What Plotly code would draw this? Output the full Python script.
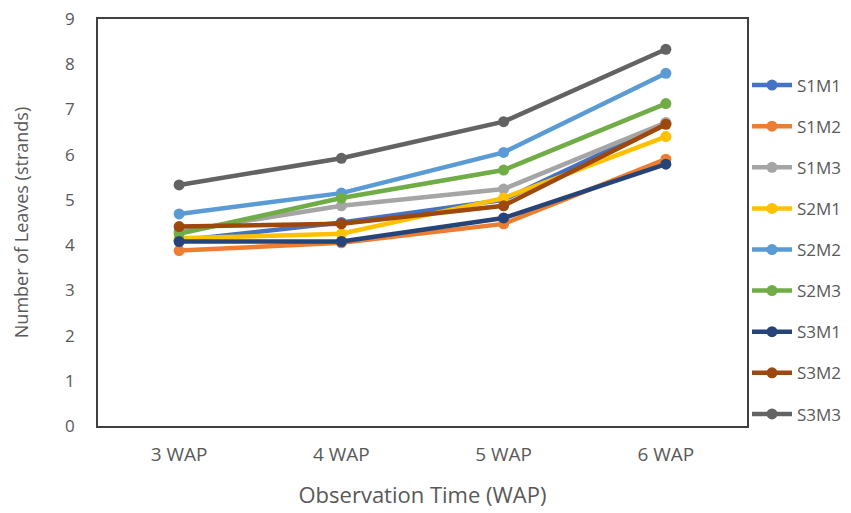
import plotly.graph_objects as go

categories = ["3 WAP", "4 WAP", "5 WAP", "6 WAP"]
series_names = ["S1M1", "S1M2", "S1M3", "S2M1", "S2M2", "S2M3", "S3M1", "S3M2", "S3M3"]
S1M1 = [4.10, 4.50, 5.00, 6.70]
S1M2 = [3.88, 4.05, 4.47, 5.90]
S1M3 = [4.30, 4.87, 5.24, 6.71]
S2M1 = [4.15, 4.25, 5.04, 6.40]
S2M2 = [4.69, 5.15, 6.05, 7.80]
S2M3 = [4.25, 5.04, 5.66, 7.13]
S3M1 = [4.08, 4.08, 4.60, 5.79]
S3M2 = [4.41, 4.47, 4.87, 6.67]
S3M3 = [5.33, 5.92, 6.73, 8.33]
series_values = [S1M1, S1M2, S1M3, S2M1, S2M2, S2M3, S3M1, S3M2, S3M3]
colors = ["#4472C4", "#ED7D31", "#A5A5A5", "#FFC000", "#5B9BD5",
          "#70AD47", "#264478", "#9E480E", "#636363"]
y_ticks = list(range(0, 10))

fig = go.Figure()
for name, vals, c in zip(series_names, series_values, colors):
    fig.add_trace(go.Scatter(
        x=categories, y=vals, name=name, mode="lines+markers",
        line=dict(color=c, width=4.5), marker=dict(color=c, size=11),
        legendgroup=name,
    ))

font_fam = "Open Sans, Liberation Sans, sans-serif"
fig.update_layout(
    width=870, height=505,
    margin=dict(l=90, r=131, t=9, b=86),
    paper_bgcolor="white", plot_bgcolor="white",
    font=dict(family=font_fam, color="#595959", size=17),
    showlegend=True,
    legend=dict(x=1.0, xanchor="left", y=0.4335, yanchor="middle",
                traceorder="grouped", tracegroupgap=16,
                font=dict(size=17, color="#595959"),
                itemwidth=40, bgcolor="rgba(0,0,0,0)"),
    xaxis=dict(showline=True, linecolor="#404040", linewidth=1.5, mirror=True,
               showgrid=False, ticks="", ticklabelstandoff=10,
               tickfont=dict(size=19),
               title=dict(text="Observation Time (WAP)", font=dict(size=22, color="#595959"), standoff=22),
               range=[-0.5, 3.5]),
    yaxis=dict(showline=True, linecolor="#404040", linewidth=1.5, mirror=True,
               showgrid=False, ticks="", range=[0, 9], tickvals=y_ticks,
               ticklabelstandoff=18, tickfont=dict(size=17),
               ticklabeloverflow="allow", automargin=False,
               title=dict(text="Number of Leaves (strands)", font=dict(size=18, color="#595959"), standoff=32)),
)
fig.write_html("out.html")
